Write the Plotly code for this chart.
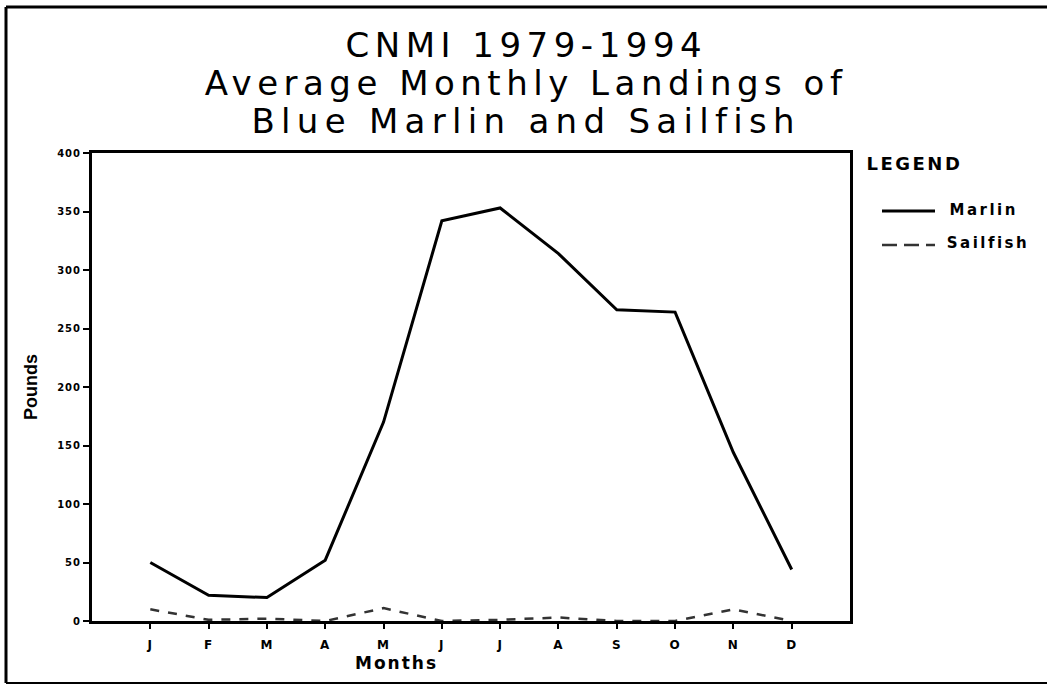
import plotly.graph_objects as go

months = ["J", "F", "M", "A", "M", "J", "J", "A", "S", "O", "N", "D"]
month_pos = list(range(1, 13))
marlin = [50, 22, 20, 52, 170, 342, 353, 314, 266, 264, 144, 44]
sailfish = [10, 1, 2, 0, 11, 0, 1, 3, 0, 0, 10, 0]
y_ticks = [0, 50, 100, 150, 200, 250, 300, 350, 400]
title_lines = ["CNMI 1979-1994", "Average Monthly Landings of", "Blue Marlin and Sailfish"]

W, H = 1047, 685
L, R, T, B = 92, 850, 153, 621

def px(x):
    return (x - L) / (R - L)

def py(y):
    return (B - y) / (B - T)

fig = go.Figure()
fig.add_trace(go.Scatter(x=month_pos, y=marlin, mode="lines", name="Marlin",
                         line=dict(color="#000000", width=3), showlegend=False))
fig.add_trace(go.Scatter(x=month_pos, y=sailfish, mode="lines", name="Sailfish",
                         line=dict(color="#333333", width=2.5, dash="9px,9px"), showlegend=False))

fig.update_xaxes(range=[0, 13], tickvals=month_pos, ticktext=months,
                 showline=True, linewidth=3, linecolor="#000000", mirror=True,
                 ticks="outside", ticklen=5, tickwidth=2, tickcolor="#000000",
                 ticklabelstandoff=6,
                 showgrid=False, zeroline=False,
                 tickfont=dict(family="DejaVu Sans", size=12, color="#000000", weight="bold"))
fig.update_yaxes(range=[0, 400], tickvals=y_ticks,
                 showline=True, linewidth=3, linecolor="#000000", mirror=True,
                 ticks="outside", ticklen=6, tickwidth=2, tickcolor="#000000",
                 showgrid=False, zeroline=False,
                 tickfont=dict(family="DejaVu Sans", size=10, color="#000000", weight="bold"),
                 title=dict(text="<b>Pounds</b>", font=dict(family="Liberation Sans Narrow, Liberation Sans", size=18, color="#000000"),
                            standoff=18))

annotations = []
for i, line in enumerate(title_lines):
    annotations.append(dict(text=line, x=px(526), y=py(45 + i * 38), xref="paper", yref="paper",
                            xanchor="center", yanchor="middle", showarrow=False,
                            font=dict(family="DejaVu Sans", size=34, color="#000000")))
annotations.append(dict(text="<b>Months</b>", x=px(396), y=py(663), xref="paper", yref="paper",
                        xanchor="center", yanchor="middle", showarrow=False,
                        font=dict(family="DejaVu Sans", size=17, color="#000000")))
annotations.append(dict(text="<b>LEGEND</b>", x=px(872), y=py(163), xref="paper", yref="paper",
                        xanchor="left", yanchor="middle", showarrow=False,
                        font=dict(family="DejaVu Sans", size=18, color="#000000")))
for name, yy in [("Marlin", 210), ("Sailfish", 243)]:
    annotations.append(dict(text="<b>" + name + "</b>", x=px(955), y=py(yy), xref="paper", yref="paper",
                            xanchor="left", yanchor="middle", showarrow=False,
                            font=dict(family="DejaVu Sans", size=15, color="#000000")))

shapes = [
    dict(type="line", xref="paper", yref="paper", x0=px(882), x1=px(935), y0=py(211), y1=py(211),
         line=dict(color="#000000", width=3)),
    dict(type="line", xref="paper", yref="paper", x0=px(882), x1=px(935), y0=py(245), y1=py(245),
         line=dict(color="#333333", width=2.5, dash="15px,7px")),
    # outer frame
    dict(type="line", xref="paper", yref="paper", x0=px(6), x1=px(1047), y0=py(7), y1=py(7),
         line=dict(color="#000000", width=3)),
    dict(type="line", xref="paper", yref="paper", x0=px(6), x1=px(6), y0=py(7), y1=py(683),
         line=dict(color="#000000", width=3)),
    dict(type="line", xref="paper", yref="paper", x0=px(6), x1=px(1047), y0=py(683), y1=py(683),
         line=dict(color="#000000", width=2)),
]

fig.update_layout(width=W, height=H, margin=dict(l=L, r=W - R, t=T, b=H - B),
                  paper_bgcolor="#ffffff", plot_bgcolor="#ffffff",
                  annotations=annotations, shapes=shapes, showlegend=False)

post_js = """
document.body.style.margin = '0px';
var gd = document.getElementById('{plot_id}');
var spacing = {
  'CNMI 1979-1994': '5.5px',
  'Average Monthly Landings of': '5.5px',
  'Blue Marlin and Sailfish': '6.3px',
  'Months': '2px',
  'LEGEND': '2.5px',
  'Marlin': '2.5px',
  'Sailfish': '2.5px'
};
gd.querySelectorAll('.annotation-text').forEach(function(t) {
  var s = t.textContent;
  if (spacing[s]) { t.style.letterSpacing = spacing[s]; }
});
gd.querySelectorAll('.ytick text, .xtick text').forEach(function(t) {
  t.style.letterSpacing = '1px';
});
"""
fig.write_html("out.html", post_script=post_js, config={"displayModeBar": False})
